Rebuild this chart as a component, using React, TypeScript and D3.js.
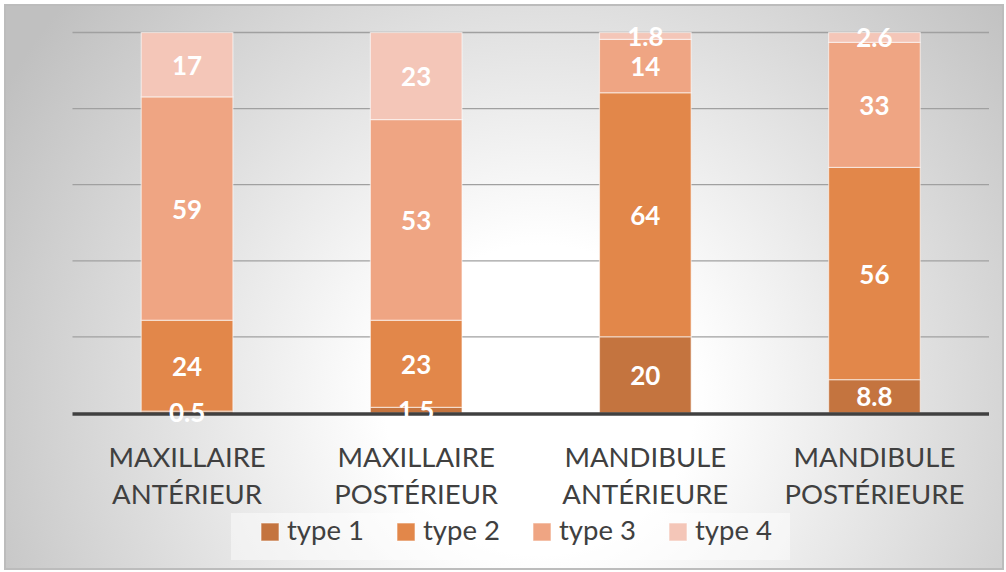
import React from 'react';
import * as d3 from 'd3';

// categories (two-line x labels)
const categories = [
  ['MAXILLAIRE', 'ANTÉRIEUR'],
  ['MAXILLAIRE', 'POSTÉRIEUR'],
  ['MANDIBULE', 'ANTÉRIEURE'],
  ['MANDIBULE', 'POSTÉRIEURE'],
];
const seriesNames = ['type 1', 'type 2', 'type 3', 'type 4'];
const type1 = [0.5, 1.5, 20, 8.8];
const type2 = [24, 23, 64, 56];
const type3 = [59, 53, 14, 33];
const type4 = [17, 23, 1.8, 2.6];
const yTicks = [0, 0.2, 0.4, 0.6, 0.8, 1];

const colors = ['#C4743F', '#E2874A', '#EFA583', '#F4C6B8'];

const W = 1006;
const H = 572;
const left = 72.5, right = 989, top = 32.5, bottom = 413;

const App = () => {
  const rows = categories.map((c, i) => ({
    key: i,
    'type 1': type1[i],
    'type 2': type2[i],
    'type 3': type3[i],
    'type 4': type4[i],
  }));
  // 100% stacked
  const stacked = d3.stack<any>().keys(seriesNames).offset(d3.stackOffsetExpand)(rows);

  const x = d3
    .scaleBand<number>()
    .domain(categories.map((c, i) => i))
    .range([left, right])
    .paddingInner(0.6)
    .paddingOuter(0.3);
  const y = d3.scaleLinear().domain([0, 1]).range([bottom, top]);
  const font = 'Lato, "Open Sans", sans-serif';
  const fmt = (v: number) => (v >= 10 ? d3.format('d')(v) : d3.format('.1f')(v));

  return (
    <svg
      width={W}
      height={H}
      style={{ position: 'absolute', left: 0, top: 0, display: 'block' }}
    >
      <defs>
        <radialGradient id="bg" gradientUnits="userSpaceOnUse" cx={540} cy={400} r={620}>
          <stop offset="0" stopColor="#ffffff" />
          <stop offset="0.25" stopColor="#ffffff" />
          <stop offset="1" stopColor="#c0c0c0" />
        </radialGradient>
      </defs>
      <rect x={0} y={0} width={W} height={H} fill="#fff" />
      <rect x={5} y={5} width={998} height={564} fill="url(#bg)" stroke="#bcbcbc" strokeWidth={2} />

      {/* gridlines */}
      {yTicks.slice(1).map(t => (
        <line key={t} x1={left} x2={right} y1={y(t)} y2={y(t)} stroke="#a0a0a0" strokeWidth={1.3} />
      ))}

      {/* bars */}
      {stacked.map((s, si) => (
        <g key={s.key}>
          {s.map((d, i) => (
            <rect
              key={i}
              x={x(i)}
              y={y(d[1])}
              width={x.bandwidth()}
              height={y(d[0]) - y(d[1])}
              fill={colors[si]}
              stroke="rgba(255,255,255,0.55)"
              strokeWidth={1.2}
            />
          ))}
        </g>
      ))}

      {/* baseline */}
      <line x1={left} x2={right} y1={bottom + 1} y2={bottom + 1} stroke="#404040" strokeWidth={3.5} />

      {/* data labels */}
      {stacked.map(s =>
        s.map((d, i) => (
          <text
            key={s.key + i}
            x={x(i)! + x.bandwidth() / 2}
            y={(y(d[0]) + y(d[1])) / 2}
            textAnchor="middle"
            dominantBaseline="central"
            fill="#fff"
            fontFamily={font}
            fontWeight="bold"
            fontSize={26}
          >
            {fmt((d.data as any)[s.key])}
          </text>
        ))
      )}

      {/* category labels */}
      {categories.map((c, i) => (
        <text
          key={i}
          x={x(i)! + x.bandwidth() / 2}
          textAnchor="middle"
          fill="#404040"
          fontFamily={font}
          fontSize={27.5}
        >
          <tspan x={x(i)! + x.bandwidth() / 2} y={467}>{c[0]}</tspan>
          <tspan x={x(i)! + x.bandwidth() / 2} y={504}>{c[1]}</tspan>
        </text>
      ))}

      {/* legend */}
      <rect x={231} y={513} width={559} height={47} fill="rgba(255,255,255,0.45)" />
      {seriesNames.map((n, i) => (
        <g key={n} transform={`translate(${261 + i * 136},523)`}>
          <rect width={18} height={18} fill={colors[i]} stroke="rgba(255,255,255,0.6)" strokeWidth={1} />
          <text x={26} y={17} fill="#404040" fontFamily={font} fontSize={27.5}>
            {n}
          </text>
        </g>
      ))}
    </svg>
  );
};

export default App;
